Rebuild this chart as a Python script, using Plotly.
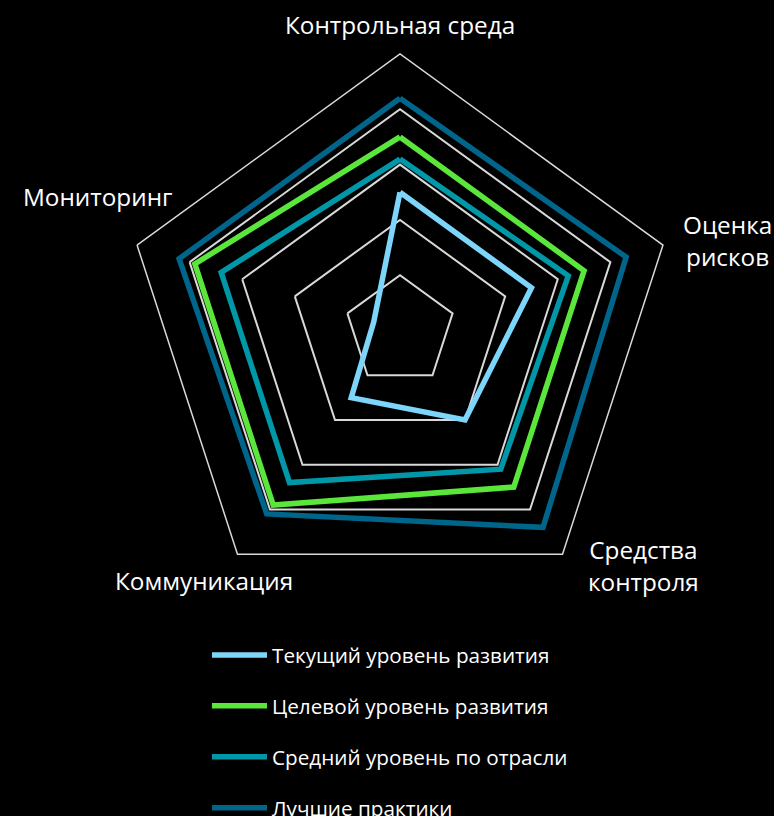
import plotly.graph_objects as go

categories = ["Контрольная среда", "Оценка рисков", "Средства контроля", "Коммуникация", "Мониторинг"]
label_lines = ["Контрольная среда", "Оценка<br>рисков", "Средства<br>контроля", "Коммуникация", "Мониторинг"]

series_names = [
    "Текущий уровень развития",
    "Целевой уровень развития",
    "Средний уровень по отрасли",
    "Лучшие практики",
]
current = [2.5, 2.5, 2.0, 1.5, 0.5]
target = [3.5, 3.5, 3.5, 3.9, 3.9]
industry = [3.1, 3.2, 3.1, 3.4, 3.4]
best = [4.2, 4.3, 4.4, 4.1, 4.2]
series_values = [current, target, industry, best]
series_colors = ["#7DD6FA", "#5BE63B", "#0098A8", "#00658A"]

W, H = 774, 816
FONT = "Open Sans"

fig = go.Figure()
for i, (name, vals, col) in enumerate(zip(series_names, series_values, series_colors)):
    fig.add_trace(go.Scatterpolar(
        r=vals + vals[:1],
        theta=categories + categories[:1],
        mode="lines",
        name=name,
        legendgroup=f"g{i}",
        line=dict(color=col, width=5.5),
    ))

cx, cy, R = 400, 330.5, 276.5
fig.update_layout(
    width=W, height=H,
    paper_bgcolor="black",
    plot_bgcolor="black",
    margin=dict(l=0, r=0, t=0, b=0, autoexpand=False),
    font=dict(family=FONT, color="white", size=20),
    polar=dict(
        bgcolor="black",
        domain=dict(x=[(cx - R) / W, (cx + R) / W], y=[(H - cy - R) / H, (H - cy + R) / H]),
        gridshape="linear",
        angularaxis=dict(
            direction="clockwise", rotation=90,
            showgrid=False, showline=True, linecolor="#D9D9D9", linewidth=1.5,
            ticks="", showticklabels=False,
        ),
        radialaxis=dict(
            range=[0, 5], dtick=1, showline=False, ticks="", showticklabels=False,
            gridcolor="#D9D9D9", gridwidth=1.5,
        ),
    ),
    showlegend=True,
    legend=dict(
        x=207 / W, xanchor="left",
        y=1 - 635 / H, yanchor="top",
        bgcolor="rgba(0,0,0,0)",
        font=dict(family=FONT, color="white", size=20.7),
        tracegroupgap=21,
        itemwidth=55,
    ),
)

label_pos = [(400, 24), (727, 240), (643, 565), (204, 580), (98, 196)]
for txt, (x, y) in zip(label_lines, label_pos):
    fig.add_annotation(
        x=x / W, y=1 - y / H, xref="paper", yref="paper",
        text=txt, showarrow=False, xanchor="center", yanchor="middle",
        font=dict(family=FONT, color="white", size=24.3),
    )

fig.write_html(
    "out.html",
    config={"displayModeBar": False},
    post_script="document.body.style.margin='0';document.body.style.background='black';",
)
